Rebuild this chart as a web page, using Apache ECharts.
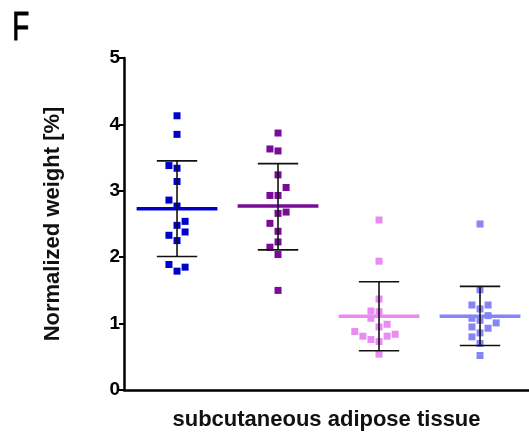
<!DOCTYPE html>
<html>
<head>
<meta charset="utf-8">
<script src="https://cdn.jsdelivr.net/npm/echarts@6/dist/echarts.min.js"></script>
<style>html,body{margin:0;padding:0;background:#fff;}#c{width:529px;height:436px;}</style>
</head>
<body>
<div id="c"></div>
<script>
// ---- data ----
var groupNames = ['G1', 'G2', 'G3', 'G4'];
var groupColors = ['#0000C8', '#7A0A98', '#E88CF2', '#8585F5'];
var g1Values = [4.13, 3.85, 3.38, 3.34, 3.14, 2.86, 2.77, 2.54, 2.48, 2.38, 2.33, 2.25, 1.89, 1.79, 1.85];
var g1Cols   = [0, 0, -1, 0, 0, -1, 0, 1, 0, 1, -1, 0, -1, 0, 1];
var g2Values = [3.87, 3.63, 3.60, 3.24, 3.05, 2.93, 2.93, 2.68, 2.66, 2.51, 2.39, 2.23, 2.15, 2.04, 1.50];
var g2Cols   = [0, -1, 0, 0, 1, -1, 0, 1, 0, -1, 0, 0, -1, 0, 0];
var g3Values = [2.56, 1.94, 1.37, 1.19, 1.18, 1.08, 0.95, 0.99, 0.88, 0.81, 0.76, 0.73, 0.81, 0.84, 0.54];
var g3Cols   = [0, 0, 0, -1, 0, -1, 0, 1, -3, -2, -1, 0, 1, 2, 0];
var g4Values = [2.50, 1.51, 1.28, 1.28, 1.22, 1.12, 1.08, 1.05, 1.01, 0.95, 0.93, 0.86, 0.80, 0.70, 0.52];
var g4Cols   = [0, 0, -1, 1, 0, 1, -1, 0, 2, -1, 1, 0, -1, 0, 0];
var means  = [2.73, 2.77, 1.11, 1.11];
var uppers = [3.45, 3.41, 1.63, 1.56];
var lowers = [2.01, 2.11, 0.59, 0.67];
var yTicks = [0, 1, 2, 3, 4, 5];
var yAxisTitle = 'Normalized weight [%]';
var xAxisTitle = 'subcutaneous adipose tissue';
var panelLabel = 'F';

// ---- build ----
var allValues = [g1Values, g2Values, g3Values, g4Values];
var allCols = [g1Cols, g2Cols, g3Cols, g4Cols];
var colStep = 0.08;
var font = "'Liberation Sans',Arial,sans-serif";

var series = [];
allValues.forEach(function (vals, gi) {
  series.push({
    type: 'scatter',
    name: groupNames[gi],
    symbol: 'rect',
    symbolSize: 7,
    itemStyle: { color: groupColors[gi], opacity: 1 },
    data: vals.map(function (v, i) { return [gi + 1 + allCols[gi][i] * colStep, v]; }),
    z: 2
  });
});
// mean lines
series.push({
  type: 'custom',
  z: 3,
  data: means.map(function (m, i) { return [i + 1, m]; }),
  renderItem: function (params, api) {
    var gi = params.dataIndex;
    var p1 = api.coord([api.value(0) - 0.40, api.value(1)]);
    var p2 = api.coord([api.value(0) + 0.40, api.value(1)]);
    return { type: 'line', shape: { x1: p1[0], y1: p1[1], x2: p2[0], y2: p2[1] },
      style: { stroke: groupColors[gi], lineWidth: 3.5 } };
  }
});
// error bars
series.push({
  type: 'custom',
  z: 4,
  data: uppers.map(function (u, i) { return [i + 1, lowers[i], u]; }),
  renderItem: function (params, api) {
    var x = api.value(0);
    var lo = api.coord([x, api.value(1)]);
    var hi = api.coord([x, api.value(2)]);
    var cw = api.size([0.2, 0])[0];
    var st = { stroke: '#111', lineWidth: 1.6 };
    return { type: 'group', children: [
      { type: 'line', shape: { x1: lo[0], y1: lo[1], x2: hi[0], y2: hi[1] }, style: st },
      { type: 'line', shape: { x1: hi[0] - cw, y1: hi[1], x2: hi[0] + cw, y2: hi[1] }, style: st },
      { type: 'line', shape: { x1: lo[0] - cw, y1: lo[1], x2: lo[0] + cw, y2: lo[1] }, style: st }
    ]};
  }
});

var chart = echarts.init(document.getElementById('c'), null, { renderer: 'canvas' });
chart.setOption({
  animation: false,
  backgroundColor: '#fff',
  graphic: [{
    type: 'text', left: 12, top: 8, scaleX: 0.68,
    style: { text: panelLabel, fontFamily: font, fontSize: 41, fill: '#000', stroke: '#000', lineWidth: 0.9 }
  }],
  grid: { left: 124, right: 0, top: 58, bottom: 46, containLabel: false, outerBoundsMode: 'none' },
  xAxis: {
    type: 'value', min: 0.475, max: 4.485,
    axisLine: { show: true, onZero: false, lineStyle: { color: '#000', width: 2.5 } },
    axisTick: { show: false }, axisLabel: { show: false }, splitLine: { show: false },
    name: xAxisTitle, nameLocation: 'middle', nameGap: 19,
    nameTextStyle: { fontFamily: font, fontSize: 22, fontWeight: 'bold', color: '#111', verticalAlign: 'top' }
  },
  yAxis: {
    type: 'value', min: yTicks[0], max: yTicks[yTicks.length - 1], interval: 1,
    axisLine: { show: true, lineStyle: { color: '#000', width: 2.5 } },
    axisTick: { show: true, length: 5, lineStyle: { color: '#000', width: 2 } },
    axisLabel: { fontFamily: font, fontSize: 19, fontWeight: 'bold', color: '#000', margin: 4 },
    splitLine: { show: false },
    name: yAxisTitle, nameLocation: 'middle', nameGap: 60, nameRotate: 90,
    nameTextStyle: { fontFamily: font, fontSize: 22, fontWeight: 'bold', color: '#111' }
  },
  series: series
});
</script>
</body>
</html>
